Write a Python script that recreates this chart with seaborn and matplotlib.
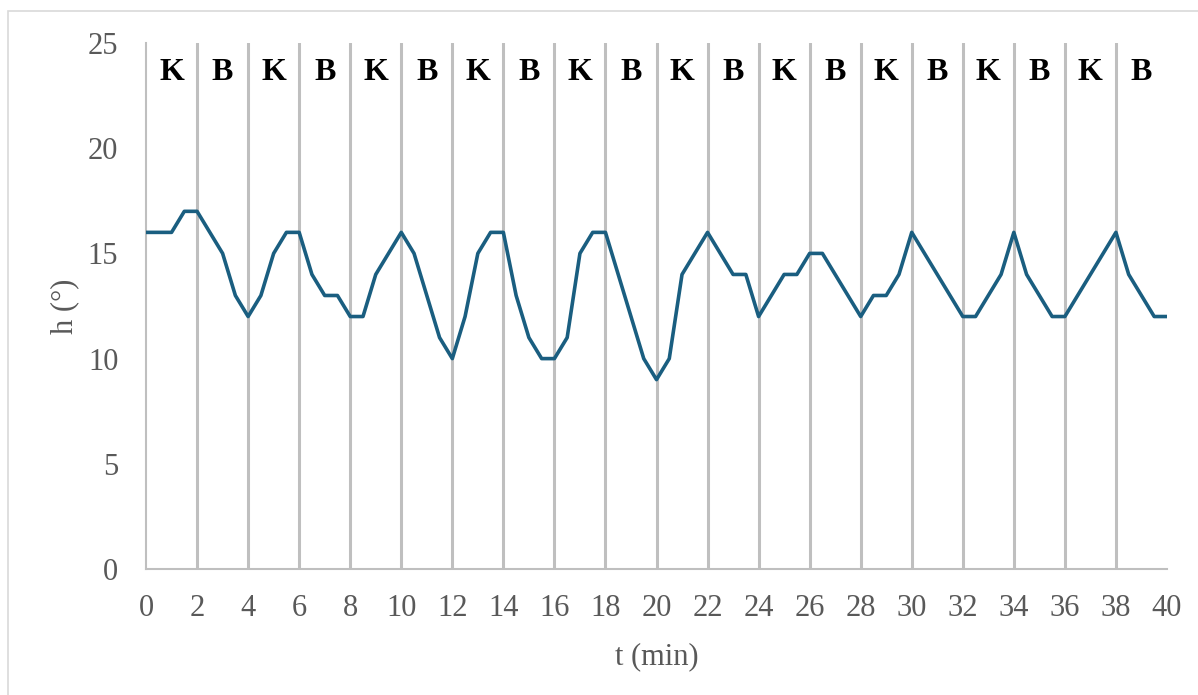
import numpy as np
import pandas as pd
import matplotlib.pyplot as plt
import seaborn as sns
from matplotlib.patches import Rectangle

# data (one value every 0.5 min)
t_min = np.arange(0, 40.5, 0.5)
h_deg = [16, 16, 16, 17, 17, 16, 15, 13, 12, 13,
         15, 16, 16, 14, 13, 13, 12, 12, 14, 15,
         16, 15, 13, 11, 10, 12, 15, 16, 16, 13,
         11, 10, 10, 11, 15, 16, 16, 14, 12, 10,
         9, 10, 14, 15, 16, 15, 14, 14, 12, 13,
         14, 14, 15, 15, 14, 13, 12, 13, 13, 14,
         16, 15, 14, 13, 12, 12, 13, 14, 16, 14,
         13, 12, 12, 13, 14, 15, 16, 14, 13, 12,
         12]

# phase labels between the separator lines
phase_t = [1, 3, 5, 7, 9, 11, 13, 15, 17, 19, 21, 23, 25, 27, 29, 31, 33, 35, 37, 39]
phase_labels = ['K', 'B', 'K', 'B', 'K', 'B', 'K', 'B', 'K', 'B',
                'K', 'B', 'K', 'B', 'K', 'B', 'K', 'B', 'K', 'B']
separators = [2, 4, 6, 8, 10, 12, 14, 16, 18, 20, 22, 24, 26, 28, 30, 32, 34, 36, 38]

df = pd.DataFrame({'t': t_min, 'h': h_deg})

sns.set_style('white')
plt.rcParams['font.family'] = ['Liberation Serif', 'DejaVu Serif']

grey = '#bfbfbf'
text_grey = '#595959'

fig = plt.figure(figsize=(11.98, 6.95), dpi=100)
ax = fig.add_axes([0.1219, 0.1813, 0.9741 - 0.1219, 0.9381 - 0.1813])

for s in separators:
    ax.axvline(s, color=grey, lw=2.2, zorder=1)

sns.lineplot(data=df, x='t', y='h', color='#1a5e80', linewidth=2.6, ax=ax, zorder=3)

for x, lab in zip(phase_t, phase_labels):
    ax.text(x, 23.6, lab, ha='center', va='center', fontsize=23,
            fontweight='bold', color='black')

ax.set_xlim(0, 40)
ax.set_ylim(0, 25)
ax.set_xticks(range(0, 41, 2))
ax.set_yticks(range(0, 26, 5))

for side in ['top', 'right']:
    ax.spines[side].set_visible(False)
for side in ['left', 'bottom']:
    ax.spines[side].set_color(grey)
    ax.spines[side].set_linewidth(1.5)

ax.tick_params(axis='both', direction='out', length=6, width=1.5, color=grey,
               labelsize=22, labelcolor=text_grey)
ax.tick_params(axis='x', pad=12)
ax.tick_params(axis='y', pad=14)

ax.set_xlabel('t (min)', fontsize=22, color=text_grey, labelpad=14)
ax.set_ylabel('h (°)', fontsize=22, color=text_grey, labelpad=6)

# chart area border
fig.patches.append(Rectangle((8 / 1198, -0.1), 1.2, 1.1 - 11 / 695,
                             transform=fig.transFigure, fill=False,
                             edgecolor='#d9d9d9', linewidth=1.2))

plt.savefig('out.png', dpi=100)
